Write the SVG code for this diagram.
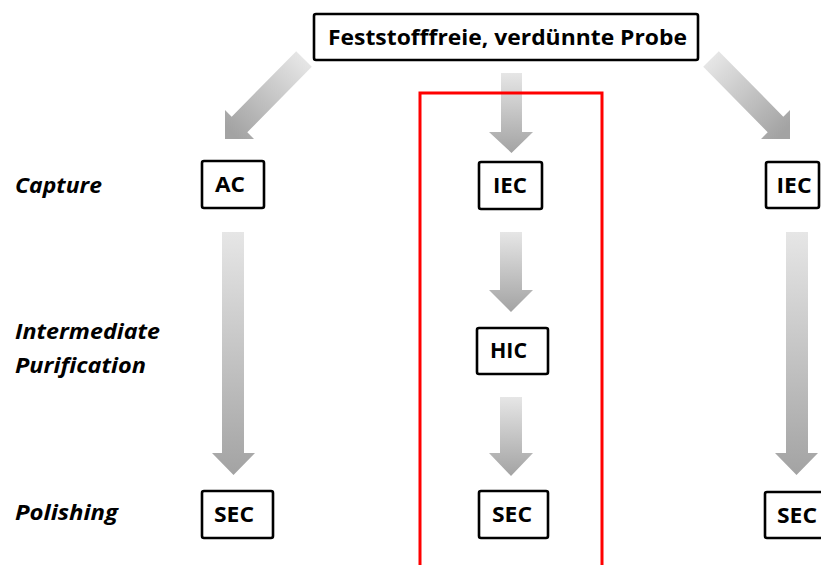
<svg xmlns="http://www.w3.org/2000/svg" width="821" height="565" viewBox="0 0 821 565">
<style>
.box{fill:#fff;stroke:#000;stroke-width:2.6}
.bt{font-family:"Open Sans","Liberation Sans",sans-serif;font-weight:bold;font-size:22px;fill:#000;text-anchor:middle}
.lbl{font-family:"Open Sans","Liberation Sans",sans-serif;font-weight:bold;font-style:italic;font-size:22px;fill:#000}
.va{fill:url(#gv)}
</style>
<defs>
<linearGradient id="gv" x1="0" y1="0" x2="0" y2="1">
<stop offset="0" stop-color="#e6e6e6"/>
<stop offset="1" stop-color="#a3a3a3"/>
</linearGradient>
<linearGradient id="gl" gradientUnits="userSpaceOnUse" x1="304" y1="59" x2="232" y2="132">
<stop offset="0" stop-color="#e6e6e6"/>
<stop offset="1" stop-color="#a3a3a3"/>
</linearGradient>
<linearGradient id="gr" gradientUnits="userSpaceOnUse" x1="711" y1="59" x2="783" y2="132">
<stop offset="0" stop-color="#e6e6e6"/>
<stop offset="1" stop-color="#a3a3a3"/>
</linearGradient>
</defs>
<rect width="821" height="565" fill="#fff"/>
<g id="labels">
<text class="lbl" x="15" y="193" textLength="87" lengthAdjust="spacingAndGlyphs">Capture</text>
<text class="lbl" x="15" y="339" textLength="145" lengthAdjust="spacingAndGlyphs">Intermediate</text>
<text class="lbl" x="15" y="373" textLength="131" lengthAdjust="spacingAndGlyphs">Purification</text>
<text class="lbl" x="15" y="520" textLength="103" lengthAdjust="spacingAndGlyphs">Polishing</text>
</g>
<g id="connectors">
<path d="M296.2,51.2 L311.8,66.8 L247.3,132.3 L254,139 L225,139 L225,110 L231.7,116.7 Z" fill="url(#gl)"/>
<path d="M718.8,51.2 L703.2,66.8 L767.7,132.3 L761,139 L790,139 L790,110 L783.3,116.7 Z" fill="url(#gr)"/>
<path class="va" d="M501,73 H522 V132 H533 L511.5,153 L489,132 H501 Z"/>
<path class="va" d="M500,232 H522 V290 H533 L511,312 L489,290 H500 Z"/>
<path class="va" d="M500,397 H522 V453 H533 L511,476 L489,453 H500 Z"/>
<path class="va" d="M222,232 H244 V453 H255 L233.5,475 L212,453 H222 Z"/>
<path class="va" d="M786,232 H808 V453 H818 L796.5,475 L775,453 H786 Z"/>
</g>
<g id="highlight">
<path d="M420,568 V93 H602 V568" fill="none" stroke="#ff0000" stroke-width="3"/>
</g>
<g id="probe">
<rect class="box" x="314" y="14" width="384" height="46" rx="2"/>
<text class="bt" x="507.5" y="45" font-size="21" textLength="359" lengthAdjust="spacingAndGlyphs" style="font-size:21px">Feststofffreie, verdünnte Probe</text>
</g>
<g id="ac">
<rect class="box" x="202" y="161" width="62" height="47" rx="2"/>
<text class="bt" x="230" y="192" textLength="30" lengthAdjust="spacingAndGlyphs">AC</text>
</g>
<g id="iec-mid">
<rect class="box" x="479" y="162" width="63" height="47" rx="2"/>
<text class="bt" x="510" y="193" textLength="34" lengthAdjust="spacingAndGlyphs">IEC</text>
</g>
<g id="iec-right">
<rect class="box" x="766" y="162" width="53" height="46" rx="2"/>
<text class="bt" x="794" y="193" textLength="35" lengthAdjust="spacingAndGlyphs">IEC</text>
</g>
<g id="hic">
<rect class="box" x="477" y="328" width="71" height="46" rx="2"/>
<text class="bt" x="508.5" y="358" textLength="37" lengthAdjust="spacingAndGlyphs">HIC</text>
</g>
<g id="sec-left">
<rect class="box" x="202" y="491" width="71" height="47" rx="2"/>
<text class="bt" x="234" y="522" textLength="40" lengthAdjust="spacingAndGlyphs">SEC</text>
</g>
<g id="sec-mid">
<rect class="box" x="479" y="491" width="69" height="47" rx="2"/>
<text class="bt" x="512" y="522" textLength="40" lengthAdjust="spacingAndGlyphs">SEC</text>
</g>
<g id="sec-right">
<rect class="box" x="765" y="492" width="70" height="46" rx="2"/>
<text class="bt" x="797" y="523" textLength="40" lengthAdjust="spacingAndGlyphs">SEC</text>
</g>
</svg>
